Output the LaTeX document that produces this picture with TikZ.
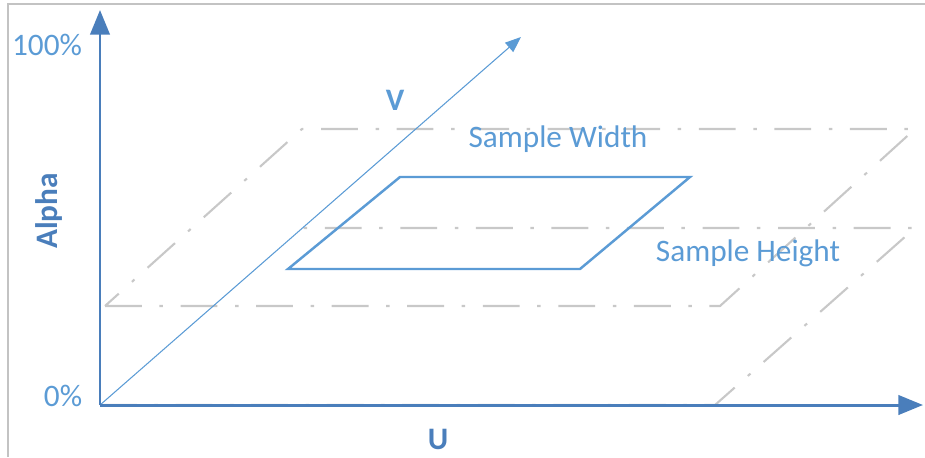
\documentclass[tikz,border=0pt]{standalone}
\usepackage{fontspec}
\setmainfont{Carlito}
\usepackage{tikz}
\usetikzlibrary{arrows.meta, positioning}
\usepackage{xcolor}
\definecolor{axisblue}{RGB}{74, 126, 187}
\definecolor{lightblue}{RGB}{91, 155, 213}
\definecolor{planegray}{RGB}{200, 200, 200}
\definecolor{framegray}{RGB}{195, 195, 195}

\begin{document}
\begin{tikzpicture}[
  x=0.02cm, y=-0.02cm,
  axis/.style={-{Triangle[length=14pt, width=11pt]}, line width=1.7pt, axisblue},
  vaxis/.style={-{Triangle[length=9pt, width=7pt]}, line width=0.6pt, lightblue},
  plane/.style={planegray, line width=1.2pt,
                dash pattern=on 21pt off 10pt on 2pt off 10pt},
  sample/.style={lightblue, line width=1.4pt, line join=miter},
  lbl/.style={font=\fontsize{17.8}{20}\selectfont, text=lightblue, inner sep=0pt, anchor=base},
  albl/.style={font=\fontsize{17.8}{20}\selectfont\bfseries, text=axisblue, inner sep=0pt, anchor=base}
]
  \useasboundingbox (0,0) rectangle (925,457);
  \draw[framegray, line width=1.1pt] (8,457) -- (8,4) -- (925,4);

  \coordinate (o) at (100,405);
  \coordinate (atip) at (100,10);
  \coordinate (utip) at (923,405);
  \coordinate (vtip) at (521,37);

  % the two alpha planes
  \draw[plane] (105,306) -- (720,306) -- (915,129) -- (302,129) -- cycle;
  \draw[plane] (100,405) -- (715,405) -- (915,228) -- (300,228);

  \draw[sample] (288,269) -- (580,269) -- (690,177) -- (400,177) -- cycle;

  \draw[vaxis] (o) -- (vtip);
  \draw[axis] (o) -- (atip);
  \draw[axis] (o) -- (utip);

  \node[lbl] (full) at (47,55) {100\%};
  \node[lbl] (zero) at (63,406) {0\%};
  \node[albl, rotate=90] (alpha) at (57,211) {Alpha};
  \node[albl] (u) at (438,449) {U};
  \node[albl, text=lightblue] (v) at (395,110) {V};
  \node[lbl] (width) at (558,147) {Sample Width};
  \node[lbl] (height) at (748,261) {Sample Height};
\end{tikzpicture}
\end{document}
